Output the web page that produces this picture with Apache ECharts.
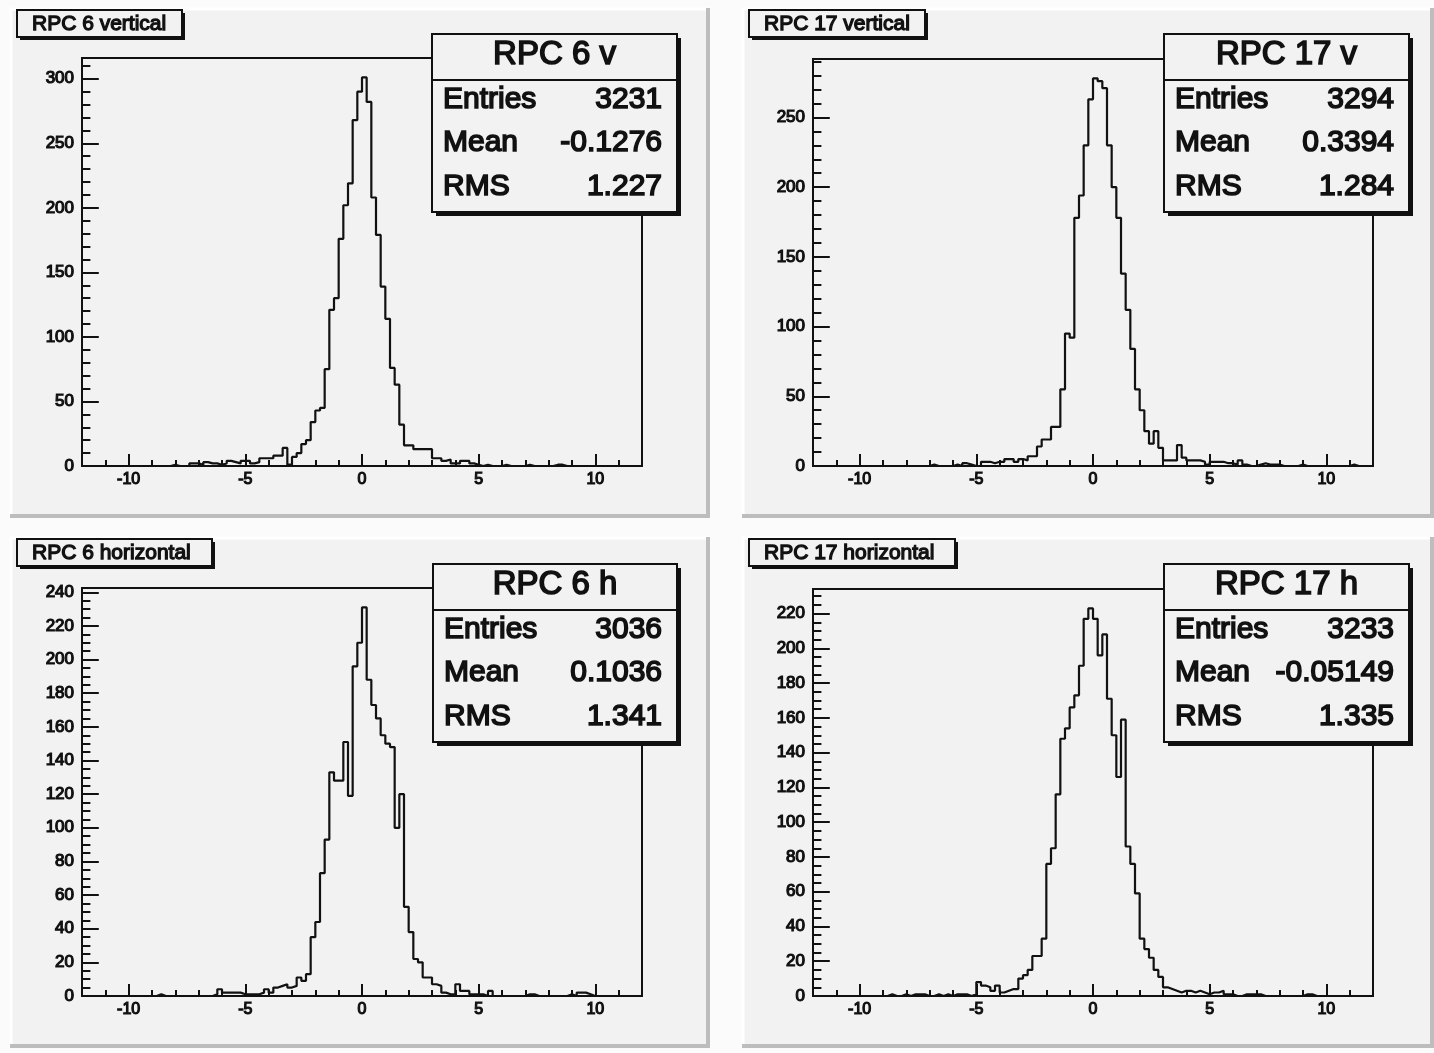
<!DOCTYPE html>
<html>
<head>
<meta charset="utf-8">
<script src="https://cdn.jsdelivr.net/npm/echarts@6/dist/echarts.min.js"></script>
<style>
  html, body { margin: 0; padding: 0; background: #fbfbfb; }
  #c { width: 1434px; height: 1053px; }
</style>
</head>
<body>
<div id="c"></div>
<script>
// Binning shared by all four histograms: 120 bins of 0.2 from -12 to 12
const xMin = -12, xMax = 12, binWidth = 0.2;

// Bin contents, one row per 2 units of x (10 bins per row)
const rpc6v = [
  0,0,0,0,0,0,0,0,0,0,
  0,0,0,0,0,0,0,0,0,1,
  0,0,0,2,2,1,3,2,2,1,
  2,4,3,2,4,4,2,3,6,6,
  6,8,8,14,1,7,10,17,20,34,
  43,45,75,121,130,176,202,219,268,290,
  301,282,208,179,139,114,76,63,32,16,
  16,13,13,13,13,6,6,4,5,2,
  2,4,4,2,1,0,1,0,0,0,
  1,0,0,0,0,1,0,0,0,0,
  0,1,1,0,0,0,0,0,0,0,
  0,0,0,0,0,0,0,0,0,0
];
const rpc17v = [
  0,0,0,0,0,0,0,0,0,0,
  0,0,0,0,0,0,0,0,0,0,
  0,0,0,0,0,1,0,0,0,0,
  1,0,2,1,0,0,3,3,2,3,
  3,5,5,3,5,4,7,7,14,19,
  19,28,28,55,95,92,178,194,230,263,
  278,276,271,230,200,178,138,112,84,55,
  40,25,16,25,13,4,4,4,15,6,
  4,4,4,3,1,3,3,3,2,2,
  1,4,1,0,0,1,2,1,1,1,
  0,0,0,0,1,0,0,0,0,0,
  0,0,0,0,0,1,0,0,0,0
];
const rpc6h = [
  0,0,0,0,0,0,0,0,0,0,
  0,0,0,0,0,0,1,0,0,0,
  0,0,0,0,0,0,0,0,1,4,
  2,2,2,2,1,1,1,1,2,4,
  2,5,6,7,5,6,11,9,13,35,
  44,73,93,133,128,128,151,119,196,210,
  231,188,173,165,155,150,148,100,120,53,
  38,22,20,11,11,7,6,2,1,1,
  7,3,3,1,1,1,0,3,0,0,
  0,0,0,0,0,1,1,0,0,0,
  0,0,0,0,1,0,2,2,1,0,
  0,0,0,0,0,0,0,0,0,0
];
const rpc17h = [
  0,0,0,0,0,0,0,0,0,0,
  0,0,0,0,0,0,1,0,0,1,
  0,1,1,1,0,0,1,0,1,0,
  1,1,1,0,1,8,6,5,3,6,
  2,3,4,4,10,12,15,23,23,33,
  76,85,116,148,154,166,173,190,217,223,
  217,196,208,171,150,126,159,86,76,59,
  33,27,22,15,11,5,4,3,2,3,
  3,2,3,2,1,2,2,3,1,1,
  0,0,1,1,1,1,0,0,0,0,
  0,0,0,0,0,1,1,0,0,0,
  0,0,0,0,0,0,0,0,0,0
];

// Titles and statistics boxes
const padTitles = ['RPC 6 vertical', 'RPC 17 vertical', 'RPC 6 horizontal', 'RPC 17 horizontal'];
const statTitles = ['RPC 6 v', 'RPC 17 v', 'RPC 6 h', 'RPC 17 h'];
const statLabels = ['Entries', 'Mean', 'RMS'];
const entries = ['3231', '3294', '3036', '3233'];
const means = ['-0.1276', '0.3394', '0.1036', '-0.05149'];
const rmsValues = ['1.227', '1.284', '1.341', '1.335'];

// Axis ticks
const xMajorTicks = [-10, -5, 0, 5, 10];
const xMinorStep = 1;
const yMajorTicks = [
  [0, 50, 100, 150, 200, 250, 300],
  [0, 50, 100, 150, 200, 250],
  [0, 20, 40, 60, 80, 100, 120, 140, 160, 180, 200, 220, 240],
  [0, 20, 40, 60, 80, 100, 120, 140, 160, 180, 200, 220]
];
const yMinorSteps = [10, 10, 5, 5];

const histograms = [rpc6v, rpc17v, rpc6h, rpc17h];

// Page layout (pixels): pad rectangle, plot frame, pad title box, statistics box
const layout = [
  { pad: [10, 8, 700, 510],  grid: [82, 58, 560, 408],  title: [17, 10, 165, 27],  stat: [432, 34, 245, 178] },
  { pad: [742, 8, 692, 510], grid: [813, 59, 560, 407], title: [749, 10, 176, 27], stat: [1164, 34, 245, 178] },
  { pad: [10, 537, 700, 511],  grid: [82, 588, 560, 408],  title: [17, 539, 195, 27],  stat: [433, 564, 244, 178] },
  { pad: [742, 537, 692, 511], grid: [813, 589, 560, 407], title: [749, 539, 206, 27], stat: [1164, 564, 245, 178] }
];

const FONT = '"Liberation Sans", Arial, Helvetica, sans-serif';
const INK = '#111';
const PAD_FILL = '#f2f2f2';

function histPoints(counts) {
  const pts = counts.map((c, i) => [xMin + i * binWidth, c]);
  pts.push([xMax, counts[counts.length - 1]]);
  return pts;
}

function stepValues(lo, hi, step) {
  const out = [];
  for (let v = lo; v <= hi + 1e-9; v += step) out.push(Math.round(v * 1000) / 1000);
  return out;
}

const grids = [], xAxes = [], yAxes = [], series = [], graphics = [];

histograms.forEach((counts, p) => {
  const L = layout[p];
  const yMax = 1.05 * Math.max.apply(null, counts);
  const xMinor = stepValues(xMin + xMinorStep, xMax - xMinorStep, xMinorStep);
  const yMinor = stepValues(0, yMax, yMinorSteps[p]);

  grids.push({
    left: L.grid[0], top: L.grid[1], width: L.grid[2], height: L.grid[3],
    show: true, borderColor: INK, borderWidth: 2, backgroundColor: 'transparent'
  });

  const labelStyle = {
    color: INK, fontFamily: FONT, textBorderColor: INK, textBorderWidth: 1.2
  };
  const hiddenLine = { show: false, onZero: false };

  // minor ticks
  xAxes.push({
    type: 'value', gridIndex: p, position: 'bottom', min: xMin, max: xMax,
    axisLine: hiddenLine, splitLine: { show: false },
    axisLabel: { show: false },
    axisTick: { show: true, inside: true, length: 6, customValues: xMinor, lineStyle: { color: INK, width: 2 } }
  });
  // major ticks + labels
  xAxes.push({
    type: 'value', gridIndex: p, position: 'bottom', min: xMin, max: xMax,
    axisLine: hiddenLine, splitLine: { show: false },
    axisTick: { show: true, inside: true, length: 12, customValues: xMajorTicks, lineStyle: { color: INK, width: 2 } },
    axisLabel: Object.assign({ show: true, customValues: xMajorTicks, margin: 6, fontSize: 16 }, labelStyle)
  });
  yAxes.push({
    type: 'value', gridIndex: p, position: 'left', min: 0, max: yMax,
    axisLine: hiddenLine, splitLine: { show: false },
    axisLabel: { show: false },
    axisTick: { show: true, inside: true, length: 8.4, customValues: yMinor, lineStyle: { color: INK, width: 2 } }
  });
  yAxes.push({
    type: 'value', gridIndex: p, position: 'left', min: 0, max: yMax,
    axisLine: hiddenLine, splitLine: { show: false },
    axisTick: { show: true, inside: true, length: 16.8, customValues: yMajorTicks[p], lineStyle: { color: INK, width: 2 } },
    axisLabel: Object.assign({ show: true, customValues: yMajorTicks[p], margin: 8, fontSize: 17 }, labelStyle)
  });

  series.push({
    type: 'line', name: statTitles[p], xAxisIndex: 2 * p + 1, yAxisIndex: 2 * p + 1,
    step: 'end', symbol: 'none', data: histPoints(counts),
    lineStyle: { color: INK, width: 2.2 }, z: 5
  });

  // pad background and bevel
  const [px, py, pw, ph] = L.pad;
  graphics.push({ type: 'rect', z: -10, shape: { x: px, y: py, width: pw, height: ph }, style: { fill: PAD_FILL } });
  graphics.push({ type: 'polyline', z: -9, shape: { points: [[px + 1, py + ph], [px + 1, py + 1], [px + pw, py + 1]] }, style: { stroke: '#ffffff', lineWidth: 3, fill: null } });
  graphics.push({ type: 'polyline', z: -9, shape: { points: [[px, py + ph - 2], [px + pw - 2, py + ph - 2], [px + pw - 2, py]] }, style: { stroke: '#bdbdbd', lineWidth: 4, fill: null } });

  // pad title box
  const [tx, ty, tw, th] = L.title;
  graphics.push({ type: 'rect', z: 100, shape: { x: tx + 3, y: ty + 3, width: tw, height: th }, style: { fill: INK } });
  graphics.push({ type: 'rect', z: 101, shape: { x: tx, y: ty, width: tw, height: th }, style: { fill: PAD_FILL, stroke: INK, lineWidth: 2 } });
  graphics.push({ type: 'text', z: 102, style: {
    text: padTitles[p], x: tx + 15, y: ty + th / 2 + 0.5, font: '21px ' + FONT, fill: INK,
    stroke: INK, lineWidth: 1.3, textAlign: 'left', textVerticalAlign: 'middle', align: 'left', verticalAlign: 'middle'
  } });

  // statistics box
  const [sx, sy, sw, sh] = L.stat;
  graphics.push({ type: 'rect', z: 100, shape: { x: sx + 4, y: sy + 4, width: sw, height: sh }, style: { fill: INK } });
  graphics.push({ type: 'rect', z: 101, shape: { x: sx, y: sy, width: sw, height: sh }, style: { fill: PAD_FILL, stroke: INK, lineWidth: 2 } });
  graphics.push({ type: 'line', z: 102, shape: { x1: sx, y1: sy + 46, x2: sx + sw, y2: sy + 46 }, style: { stroke: INK, lineWidth: 2 } });
  graphics.push({ type: 'text', z: 102, style: {
    text: statTitles[p], x: sx + sw / 2, y: sy + 21, font: '33px ' + FONT, fill: INK,
    stroke: INK, lineWidth: 1.6, textAlign: 'center', textVerticalAlign: 'middle', align: 'center', verticalAlign: 'middle'
  } });
  const vals = [entries[p], means[p], rmsValues[p]];
  const rowY = [66, 109, 153];
  statLabels.forEach((lab, r) => {
    graphics.push({ type: 'text', z: 102, style: {
      text: lab, x: sx + 11, y: sy + rowY[r], font: '30px ' + FONT, fill: INK,
      stroke: INK, lineWidth: 1.6, textAlign: 'left', textVerticalAlign: 'middle', align: 'left', verticalAlign: 'middle'
    } });
    graphics.push({ type: 'text', z: 102, style: {
      text: vals[r], x: sx + sw - 15, y: sy + rowY[r], font: '30px ' + FONT, fill: INK,
      stroke: INK, lineWidth: 1.6, textAlign: 'right', textVerticalAlign: 'middle', align: 'right', verticalAlign: 'middle'
    } });
  });
});

const chart = echarts.init(document.getElementById('c'), null, { renderer: 'canvas' });
chart.setOption({
  animation: false,
  backgroundColor: '#fbfbfb',
  grid: grids,
  xAxis: xAxes,
  yAxis: yAxes,
  series: series,
  graphic: { elements: graphics }
});
</script>
</body>
</html>
